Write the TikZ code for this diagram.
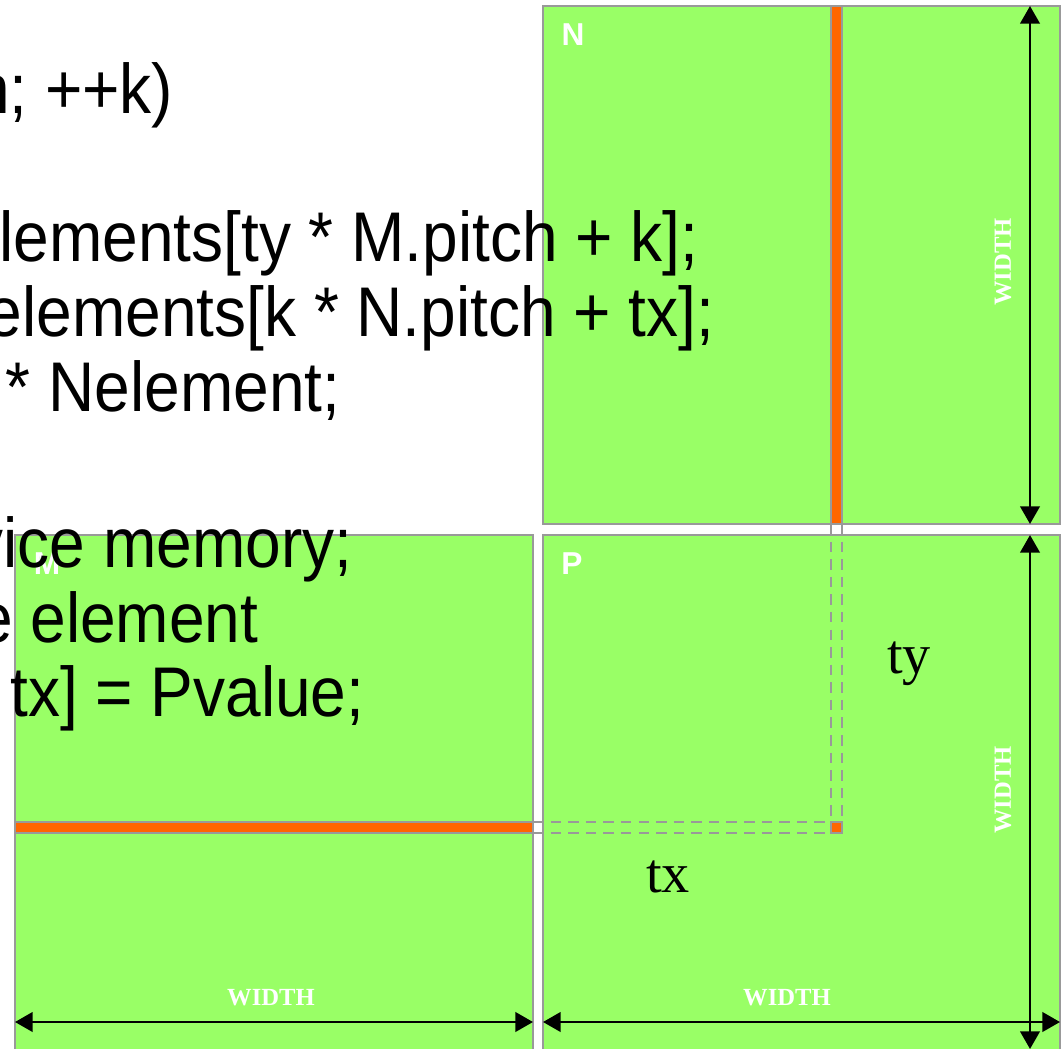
\documentclass[tikz,border=0pt]{standalone}
\usepackage{fontspec}
\setmainfont{Liberation Sans}
\newfontfamily\codefont[FakeStretch=0.91]{Liberation Sans}
\newfontfamily\labelserif{Liberation Serif}
\usepackage{xcolor}
\usetikzlibrary{arrows.meta, positioning}

\definecolor{matgreen}{RGB}{153,255,102}
\definecolor{rowline}{RGB}{255,102,0}
\definecolor{edgegray}{RGB}{153,153,153}

\begin{document}
\begin{tikzpicture}[
        x=0.01cm, y=-0.01cm,
        matbox/.style={draw=edgegray, fill=matgreen, line width=0.8pt},
        strip/.style={draw=edgegray, fill=rowline, line width=0.8pt},
        guide/.style={draw=edgegray, line width=0.8pt, dash pattern=on 3pt off 2pt},
        code/.style={anchor=base east, inner sep=0pt, font=\codefont\fontsize{20}{24}\selectfont},
        tag/.style={text=white, inner sep=0pt, font=\bfseries\fontsize{9}{10}\selectfont},
        dimtext/.style={text=white, inner sep=0pt, font=\labelserif\bfseries\fontsize{7}{8}\selectfont},
        idx/.style={anchor=base, inner sep=0pt, font=\labelserif\fontsize{16}{18}\selectfont},
        dim/.style={<->, line width=0.8pt},
        >={Triangle[length=5pt, width=5.5pt]}
    ]
    \useasboundingbox (0,0) rectangle (1061,1049);

    \path[matbox] (543,6) rectangle (1060,524);
    \path[matbox] (15,535) rectangle (533,1060);
    \path[matbox] (543,535) rectangle (1060,1060);

    \path[strip] (831,6) rectangle (842,524);
    \path[strip] (15,822) rectangle (533,833);
    \path[strip] (831,822) rectangle (842,833);

    \draw[guide] (831,524) -- (831,822);
    \draw[guide] (842,524) -- (842,822);
    \draw[guide] (533,822) -- (831,822);
    \draw[guide] (533,833) -- (831,833);

    \node[tag] (labN) at (573,35) {N};
    \node[tag] (labM) at (47,564) {M};
    \node[tag] (labP) at (572,564) {P};

    \node[code] (line1) at (174,114) {n; ++k)};
    \node[code] (line2) at (699,262) {lements[ty * M.pitch + k];};
    \node[code] (line3) at (715,337) {elements[k * N.pitch + tx];};
    \node[code] (line4) at (341,411) {* Nelement;};
    \node[code] (line5) at (353,567) {vice memory;};
    \node[code] (line6) at (259,642) {e element};
    \node[code] (line7) at (365,716) {tx] = Pvalue;};

    \coordinate (nTop) at (1030,6);
    \coordinate (nBot) at (1030,524);
    \coordinate (pTop) at (1030,535);
    \coordinate (pBot) at (1030,1049);
    \coordinate (mLeft) at (15,1022);
    \coordinate (mRight) at (533,1022);
    \coordinate (pLeft) at (543,1022);
    \coordinate (pRight) at (1060,1022);

    \draw[dim] (nTop) -- (nBot);
    \draw[dim] (pTop) -- (pBot);
    \draw[dim] (mLeft) -- (mRight);
    \draw[dim] (pLeft) -- (pRight);

    \node[dimtext, rotate=90] (wN) at (1003,262) {WIDTH};
    \node[dimtext, rotate=90] (wP) at (1003,790) {WIDTH};
    \node[dimtext] (wM) at (271,998) {WIDTH};
    \node[dimtext] (wQ) at (787,998) {WIDTH};

    \node[idx] (ty) at (909,673) {ty};
    \node[idx] (tx) at (668,892) {tx};

\end{tikzpicture}
\end{document}
